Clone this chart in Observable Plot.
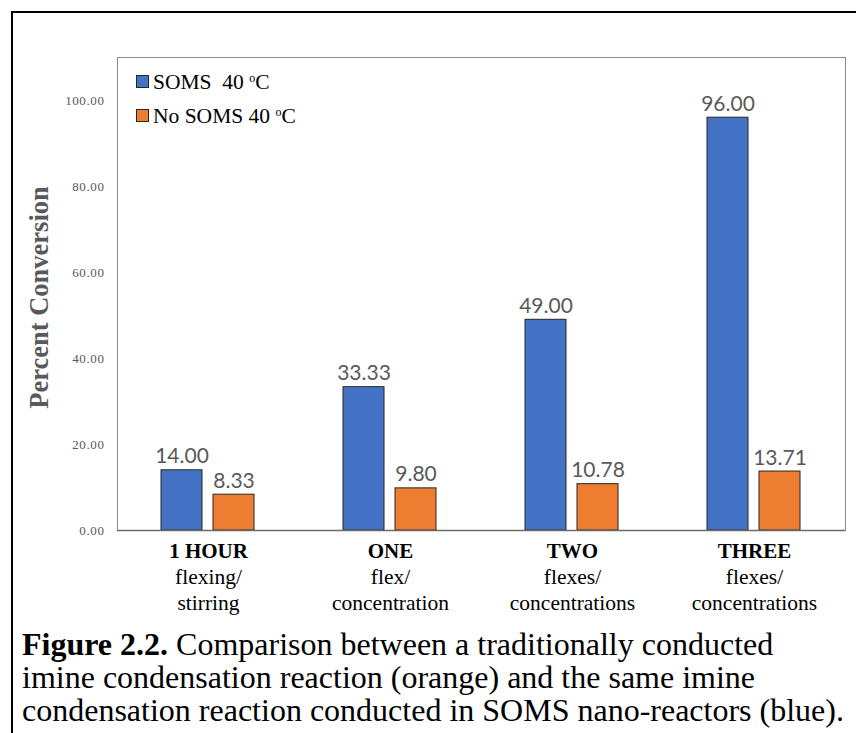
<!DOCTYPE html>
<html>
<head>
<meta charset="utf-8">
<script src="https://cdn.jsdelivr.net/npm/d3@7"></script>
<script src="https://cdn.jsdelivr.net/npm/@observablehq/plot@0.6"></script>
<style>
  html, body { margin: 0; padding: 0; background: #fff; }
  #page { position: relative; width: 856px; height: 733px; overflow: hidden; }
  #border { position: absolute; left: 11px; top: 11px; width: 900px; height: 800px;
            border-left: 2px solid #000; border-top: 2px solid #000; }
  #chart { position: absolute; left: 0; top: 0; }
  .legend { position: absolute; left: 136px; font-family: "Liberation Serif", "Times New Roman", Times, serif; font-size: 21.5px; color: #000; white-space: pre; line-height: 1; }
  .legend .sw { display: inline-block; width: 11px; height: 11px; border: 1px solid #262626; margin-right: 4px; vertical-align: 1px; }
  .legend sup { font-size: 12px; vertical-align: 7px; line-height: 0; }
  #caption { position: absolute; left: 22px; top: 628px; font-family: "Liberation Serif", "Times New Roman", Times, serif; font-size: 32px; line-height: 33px; color: #000; white-space: nowrap; }
  #chart svg [aria-label="y-axis tick label"] text { letter-spacing: 0.6px; }
</style>
</head>
<body>
<div id="page">
  <div id="border"></div>
  <div id="chart"></div>
  <div id="legend"></div>
  <div id="caption"><b>Figure 2.2.</b> Comparison between a traditionally conducted<br>imine condensation reaction (orange) and the same imine<br>condensation reaction conducted in SOMS nano-reactors (blue).</div>
</div>
<script>
const categories = ["1 HOUR", "ONE", "TWO", "THREE"];
const subLabels = ["flexing/\nstirring", "flex/\nconcentration", "flexes/\nconcentrations", "flexes/\nconcentrations"];
const somsValues = [14.00, 33.33, 49.00, 96.00];
const noSomsValues = [8.33, 9.80, 10.78, 13.71];
const yTicks = [0, 20, 40, 60, 80, 100];
const seriesNames = ["SOMS", "No SOMS"];
const seriesColors = ["#4472C4", "#ED7D31"];
const yLabel = "Percent Conversion";

const SERIF = "'Liberation Serif', 'Times New Roman', Times, serif";

const somsData = categories.map((c, i) => ({cat: c, v: somsValues[i]}));
const noSomsData = categories.map((c, i) => ({cat: c, v: noSomsValues[i]}));
const catData = categories.map((c, i) => ({cat: c, sub: subLabels[i]}));

const chart = Plot.plot({
  width: 856,
  height: 620,
  marginLeft: 117,
  marginRight: 11,
  marginTop: 57,
  marginBottom: 90,
  x: {domain: categories, padding: 0, axis: null},
  y: {domain: [0, 110], axis: null},
  style: {fontFamily: SERIF, background: "transparent", overflow: "visible"},
  marks: [
    Plot.frame({stroke: "#8c8c8c"}),
    Plot.axisY({ticks: yTicks, tickSize: 0, tickPadding: 13, tickFormat: d3.format(".2f"),
      fontSize: 13, fontFamily: SERIF, color: "#595959", label: null}),
    Plot.barY(somsData, {x: "cat", y: "v", fill: seriesColors[0], stroke: "#262626", strokeWidth: 1,
      insetLeft: 44, insetRight: 97}),
    Plot.barY(noSomsData, {x: "cat", y: "v", fill: seriesColors[1], stroke: "#262626", strokeWidth: 1,
      insetLeft: 96, insetRight: 45}),
    Plot.ruleY([0], {stroke: "#6b6b6b", strokeWidth: 1.3}),
    Plot.text(somsData, {x: "cat", y: "v", text: d => d.v.toFixed(2), dx: -26.5, dy: -7,
      lineAnchor: "bottom", fontFamily: "Lato, sans-serif", fontSize: 21, fill: "#595959"}),
    Plot.text(noSomsData, {x: "cat", y: "v", text: d => d.v.toFixed(2), dx: 25.5, dy: -7,
      lineAnchor: "bottom", fontFamily: "Lato, sans-serif", fontSize: 21, fill: "#595959"}),
    Plot.text(catData, {x: "cat", text: "cat", frameAnchor: "bottom", lineAnchor: "bottom", dy: 27,
      fontFamily: SERIF, fontWeight: "bold", fontSize: 21, fill: "#000"}),
    Plot.text(catData, {x: "cat", text: "sub", frameAnchor: "bottom", lineAnchor: "bottom", dy: 79,
      fontFamily: SERIF, fontSize: 21.5, lineHeight: 1.21, fill: "#000"}),
    Plot.text([yLabel], {frameAnchor: "left", textAnchor: "middle", lineAnchor: "middle", rotate: -90,
      dx: -77.5, dy: 3.5, fontFamily: SERIF, fontWeight: "bold", fontSize: 26.5, fill: "#595959"})
  ]
});
document.getElementById("chart").appendChild(chart);

const legend = document.getElementById("legend");
const legendTexts = [seriesNames[0] + "  40 ", seriesNames[1] + " 40 "];
const legendTops = [72, 106];
seriesNames.forEach((name, i) => {
  const row = document.createElement("div");
  row.className = "legend";
  row.style.top = legendTops[i] + "px";
  const sw = document.createElement("span");
  sw.className = "sw";
  sw.style.background = seriesColors[i];
  row.appendChild(sw);
  row.appendChild(document.createTextNode(legendTexts[i]));
  const sup = document.createElement("sup");
  sup.textContent = "o";
  row.appendChild(sup);
  row.appendChild(document.createTextNode("C"));
  legend.appendChild(row);
});
</script>
</body>
</html>
